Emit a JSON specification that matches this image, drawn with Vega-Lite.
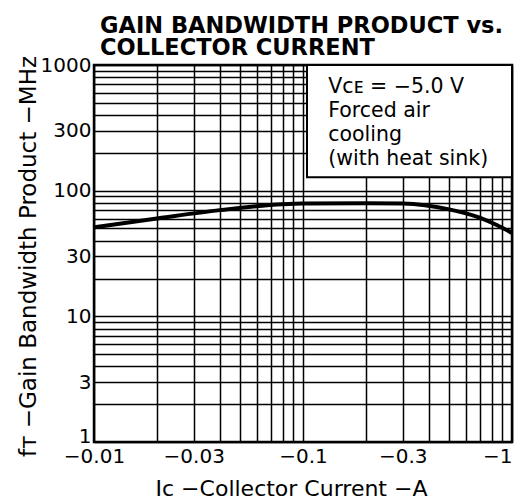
{
  "$schema": "https://vega.github.io/schema/vega-lite/v6.json",
  "autosize": "none",
  "width": 418,
  "height": 377,
  "padding": {"left": 94, "top": 65, "right": 15, "bottom": 58},
  "background": "white",
  "config": {
    "view": {"stroke": "black", "strokeWidth": 2.5},
    "font": "DejaVu Sans"
  },
  "title": {
    "text": ["GAIN BANDWIDTH PRODUCT vs.", "COLLECTOR CURRENT"],
    "font": "DejaVu Sans",
    "fontSize": 22.5,
    "fontWeight": "bold",
    "color": "black",
    "anchor": "start",
    "frame": "group",
    "dx": 6,
    "dy": 10,
    "offset": 6,
    "lineHeight": 22
  },
  "datasets": {
    "curve": [
      {"ic": 0.01, "ft": 51},
      {"ic": 0.02, "ft": 60},
      {"ic": 0.04, "ft": 70},
      {"ic": 0.08, "ft": 78},
      {"ic": 0.1, "ft": 79},
      {"ic": 0.2, "ft": 79.5},
      {"ic": 0.3, "ft": 79},
      {"ic": 0.5, "ft": 71},
      {"ic": 0.7, "ft": 61},
      {"ic": 0.85, "ft": 53},
      {"ic": 1.0, "ft": 46}
    ],
    "box": [{"x1": 0.1045, "x2": 1, "y1": 128, "y2": 1000}],
    "note": [{"x": 0.132, "y": 598, "lines": ["Vᴄᴇ = −5.0 V", "Forced air", "cooling", "(with heat sink)"]}]
  },
  "layer": [
    {
      "data": {"name": "curve"},
      "mark": {"type": "line", "color": "black", "strokeWidth": 4, "interpolate": "monotone"},
      "encoding": {
        "x": {
          "field": "ic",
          "type": "quantitative",
          "scale": {"type": "log", "domain": [0.01, 1], "nice": false},
          "axis": {
            "values": [0.01, 0.02, 0.03, 0.04, 0.05, 0.06, 0.07, 0.08, 0.09, 0.1, 0.2, 0.3, 0.4, 0.5, 0.6, 0.7, 0.8, 0.9, 1],
            "labelExpr": "indexof([0.01, 0.03, 0.1, 0.3, 1], datum.value) >= 0 ? '−' + datum.label : ''",
            "format": "~g",
            "grid": true,
            "gridColor": "black",
            "gridWidth": 1.5,
            "gridOpacity": 1,
            "domain": false,
            "ticks": false,
            "tickSize": 0,
            "labelFlush": false,
            "labelAlign": {"condition": {"test": "datum.value >= 1", "value": "right"}, "value": "center"},
            "labelFont": "DejaVu Sans",
            "labelFontSize": 20,
            "labelColor": "black",
            "labelPadding": 4,
            "labelOverlap": false,
            "title": "Iᴄ −Collector Current −A",
            "titleFont": "DejaVu Sans",
            "titleFontSize": 22,
            "titleFontWeight": "normal",
            "titleColor": "black",
            "titleX": 197,
            "titleY": 53,
            "titleAlign": "center",
            "titleBaseline": "alphabetic"
          }
        },
        "y": {
          "field": "ft",
          "type": "quantitative",
          "scale": {"type": "log", "domain": [1, 1000], "nice": false},
          "axis": {
            "values": [1, 2, 3, 4, 5, 6, 7, 8, 9, 10, 20, 30, 40, 50, 60, 70, 80, 90, 100, 200, 300, 400, 500, 600, 700, 800, 900, 1000],
            "labelExpr": "indexof([1, 3, 10, 30, 100, 300, 1000], datum.value) >= 0 ? datum.label : ''",
            "format": "~g",
            "grid": true,
            "gridColor": "black",
            "gridWidth": 1.5,
            "gridOpacity": 1,
            "domain": false,
            "ticks": false,
            "tickSize": 0,
            "labelFont": "DejaVu Sans",
            "labelFontSize": 20,
            "labelColor": "black",
            "labelPadding": 3,
            "labelOverlap": false,
            "labelFlush": false,
            "labelBaseline": {"condition": {"test": "datum.value <= 1", "value": "alphabetic"}, "value": "middle"},
            "title": "fᴛ −Gain Bandwidth Product −MHz",
            "titleFont": "DejaVu Sans",
            "titleFontSize": 23,
            "titleFontWeight": "normal",
            "titleColor": "black",
            "titleX": -59,
            "titleY": 191,
            "titleAlign": "center",
            "titleBaseline": "alphabetic",
            "titleAngle": -90
          }
        }
      }
    },
    {
      "data": {"name": "box"},
      "mark": {"type": "rect", "fill": "white", "stroke": "black", "strokeWidth": 2},
      "encoding": {
        "x": {"field": "x1", "type": "quantitative"},
        "x2": {"field": "x2"},
        "y": {"field": "y1", "type": "quantitative"},
        "y2": {"field": "y2"}
      }
    },
    {
      "data": {"name": "note"},
      "mark": {"type": "text", "align": "left", "baseline": "alphabetic", "font": "DejaVu Sans", "fontSize": 20.5, "lineHeight": 24, "color": "black"},
      "encoding": {
        "x": {"field": "x", "type": "quantitative"},
        "y": {"field": "y", "type": "quantitative"},
        "text": {"field": "lines"}
      }
    }
  ]
}
